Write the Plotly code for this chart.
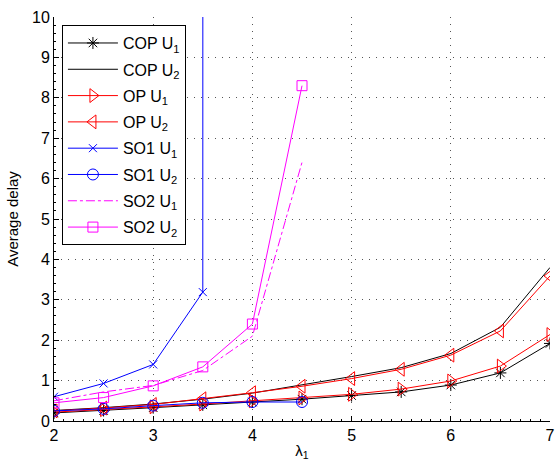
import plotly.graph_objects as go

lam = [2, 2.5, 3, 3.5, 4, 4.5, 5, 5.5, 6, 6.5, 7]
cop_u1 = [0.20, 0.26, 0.33, 0.40, 0.47, 0.54, 0.63, 0.72, 0.89, 1.19, 1.92]
cop_u2 = [0.26, 0.33, 0.42, 0.54, 0.69, 0.89, 1.10, 1.32, 1.67, 2.32, 3.80]
op_u1 = [0.22, 0.28, 0.35, 0.42, 0.50, 0.57, 0.66, 0.79, 0.99, 1.36, 2.14]
op_u2 = [0.25, 0.32, 0.41, 0.55, 0.70, 0.86, 1.05, 1.28, 1.63, 2.23, 3.59]
so1_x1 = [2, 2.5, 3, 3.5, 4]
so1_u1 = [0.60, 0.93, 1.40, 3.19, 10000]
so1_x2 = [2, 2.5, 3, 3.5, 4, 4.5]
so1_u2 = [0.25, 0.30, 0.38, 0.45, 0.47, 0.47]
so2_x = [2, 2.5, 3, 3.5, 4, 4.5]
so2_u1 = [0.50, 0.72, 0.88, 1.25, 2.10, 6.40]
so2_u2 = [0.45, 0.58, 0.87, 1.34, 2.40, 8.30]

fig = go.Figure()

def add(x, y, name, color, symbol=None, dash='solid', size=10):
    mode = 'lines+markers' if symbol else 'lines'
    fig.add_trace(go.Scatter(
        x=x, y=y, name=name, mode=mode, legendgroup=name,
        line=dict(color=color, width=1, dash=dash),
        marker=dict(symbol=symbol, size=size, color=color,
                    line=dict(color=color, width=1)) if symbol else None,
    ))

add(lam, cop_u1, 'COP U<sub>1</sub>', 'black', 'asterisk-open', size=10)
add(lam, cop_u2, 'COP U<sub>2</sub>', 'black')
add(lam, op_u1, 'OP U<sub>1</sub>', '#ff0000', 'triangle-right-open', size=12)
add(lam, op_u2, 'OP U<sub>2</sub>', '#ff0000', 'triangle-left-open', size=12)
add(so1_x1, so1_u1, 'SO1 U<sub>1</sub>', '#0000ff', 'x-thin-open', size=8)
add(so1_x2, so1_u2, 'SO1 U<sub>2</sub>', '#0000ff', 'circle-open', size=11)
add(so2_x, so2_u1, 'SO2 U<sub>1</sub>', '#ff00ff', dash='dashdot')
add(so2_x, so2_u2, 'SO2 U<sub>2</sub>', '#ff00ff', 'square-open', size=10)

axis_common = dict(
    showline=True, linecolor='black', linewidth=1, mirror=False,
    ticks='inside', ticklen=5, tickcolor='black',
    showgrid=True, gridcolor='#555555', griddash='1px,6px', gridwidth=1,
    zeroline=False, automargin=False,
    tickfont=dict(family='Liberation Sans, Arial', size=16, color='black'),
)

fig.update_layout(
    width=555, height=465,
    margin=dict(l=54, r=5, t=17, b=44),
    paper_bgcolor='white', plot_bgcolor='white',
    font=dict(family='Liberation Sans, Arial', size=15, color='black'),
    xaxis=dict(range=[2, 7], dtick=1,
               minor=dict(dtick=0.1, ticks='inside', ticklen=2, tickcolor='black', showgrid=False),
               title=dict(text='λ<sub>1</sub>', font=dict(size=15), standoff=2),
               **axis_common),
    yaxis=dict(range=[0, 10], dtick=1,
               minor=dict(dtick=0.2, ticks='inside', ticklen=2, tickcolor='black', showgrid=False),
               title=dict(text='Average delay', font=dict(size=15), standoff=9),
               **axis_common),
    legend=dict(x=0.016, y=0.98, xanchor='left', yanchor='top',
                bgcolor='white', bordercolor='black', borderwidth=1,
                font=dict(size=16), tracegroupgap=2.5, itemwidth=50),
    showlegend=True,
)

fig.write_html('out.html', config={'displayModeBar': False},
               post_script="document.body.style.margin='0px';")
